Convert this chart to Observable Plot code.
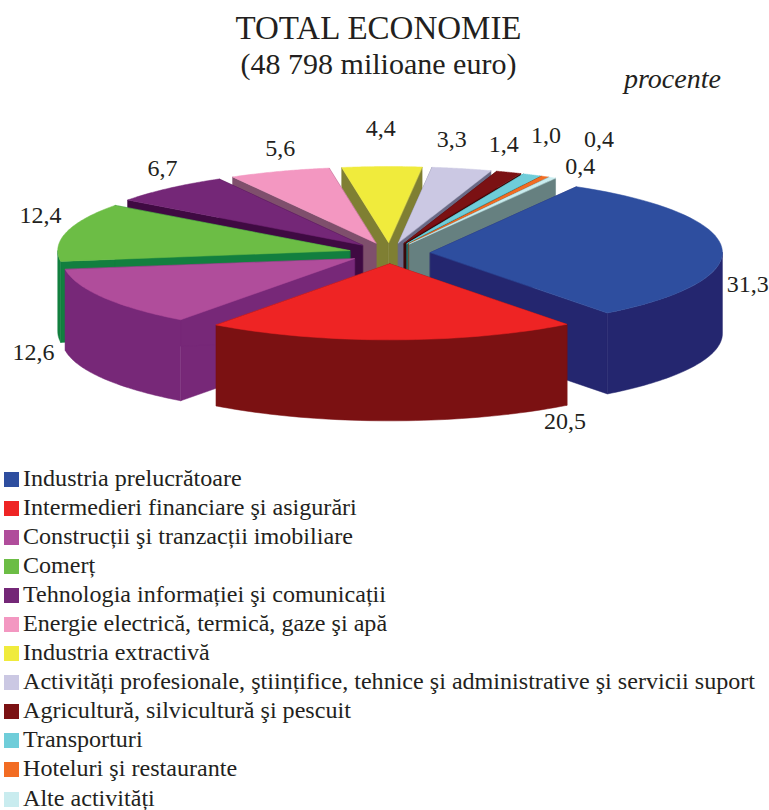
<!DOCTYPE html>
<html>
<head>
<meta charset="utf-8">
<script src="https://cdn.jsdelivr.net/npm/d3@7"></script>
<script src="https://cdn.jsdelivr.net/npm/@observablehq/plot@0.6"></script>
<style>
  html,body{margin:0;padding:0;background:#fff;}
  body{width:769px;height:810px;overflow:hidden;position:relative;font-family:"Liberation Serif",serif;color:#231f20;}
  #head{height:96px;position:relative;text-align:center;}
  #head .t{position:absolute;left:0;width:757px;line-height:36px;white-space:nowrap;}
  #head .u{position:absolute;left:624px;top:64px;font-size:28px;line-height:30px;font-style:italic;}
  #legend{position:absolute;left:0;top:465px;}
  .row{height:29.05px;display:flex;align-items:center;font-size:24.1px;line-height:26px;white-space:nowrap;}
  .row span.tx{position:relative;top:-1.5px;}
  .sw{width:15px;height:15px;margin:0 4px 0 4px;flex:none;}
  svg{display:block;}
</style>
</head>
<body>
<div id="head">
  <div class="t" style="top:10px;font-size:33px">TOTAL ECONOMIE</div>
  <div class="t" style="top:46px;font-size:30px">(48 798 milioane euro)</div>
  <div class="u">procente</div>
</div>
<div id="chart"></div>
<div id="legend"></div>
<script>
const categories = [
  "Industria prelucrătoare",
  "Intermedieri financiare şi asigurări",
  "Construcții şi tranzacții imobiliare",
  "Comerț",
  "Tehnologia informației şi comunicații",
  "Energie electrică, termică, gaze şi apă",
  "Industria extractivă",
  "Activități profesionale, ştiințifice, tehnice şi administrative şi servicii suport",
  "Agricultură, silvicultură şi pescuit",
  "Transporturi",
  "Hoteluri şi restaurante",
  "Alte activități"
];
const values = [31.3, 20.5, 12.6, 12.4, 6.7, 5.6, 4.4, 3.3, 1.4, 1.0, 0.4, 0.4];
const valueLabels = ["31,3","20,5","12,6","12,4","6,7","5,6","4,4","3,3","1,4","1,0","0,4","0,4"];
const topColors = ["#2e4e9f","#ee2424","#b04d9b","#6cbd45","#742777","#f397c1","#f0eb3c","#cbc8e3","#7b1113","#6fcdd9","#f26c23","#c9ecef"];
const wallColors = ["#24266f","#7b1112","#772878","#127f3f","#3f0a42","#7f4f6c","#7f7f33","#6a6a86","#3a0808","#177a7c","#7f3a10","#668080"];
// draw order: back slices first, the two front slices last
const paintOrder = [6,5,4,3,2,7,8,9,10,11,0,1];
// manual placement of the value labels, relative to each slice's rim middle
const labelNudge = [[26,37],[173,81],[-70,55],[-26,-16.5],[-6.5,-20],[1,-23],[-1,-38],[-10,-29],[-5,-28],[14,-40],[54,-37],[28,-11]];

// pie layout
const startAngle = 30, R = 292, RY = 76, depth = 81, explode = 41, cx = 389, cy = 252.7;
const rad = d => d * Math.PI / 180;
const total = d3.sum(values);
let acc = startAngle;
const slices = values.map((v, i) => {
  const a0 = acc, a1 = acc + v / total * 360; acc = a1;
  const m = (a0 + a1) / 2;
  const ax = cx + explode * Math.sin(rad(m));
  const ay = cy - explode * RY / R * Math.cos(rad(m));
  return {i, a0, a1, m, ax, ay};
});
const rim = (s, a) => [s.ax + R * Math.sin(rad(a)), s.ay - RY * Math.cos(rad(a))];
const arc = (s, a0, a1) => d3.range(0, 49).map(k => rim(s, a0 + (a1 - a0) * k / 48));

const polys = [];
let pid = 0;
const addPoly = (pts, color) => { pid++; pts.forEach(([x, y]) => polys.push({x, y, id: pid, color})); };
const down = ([x, y]) => [x, y + depth];
for (const i of paintOrder) {
  const s = slices[i];
  const wall = wallColors[i];
  for (const a of [s.a0, s.a1]) {
    const p = rim(s, a);
    addPoly([[s.ax, s.ay], p, down(p), down([s.ax, s.ay])], wall);
  }
  const lo = Math.max(s.a0, 90), hi = Math.min(s.a1, 270);
  if (hi > lo) {
    const c = arc(s, lo, hi);
    addPoly([...c, ...c.slice().reverse().map(down)], wall);
  }
  addPoly([[s.ax, s.ay], ...arc(s, s.a0, s.a1)], topColors[i]);
}
const labels = slices.map(s => ({
  text: valueLabels[s.i],
  x: cx + (explode + R) * Math.sin(rad(s.m)) + labelNudge[s.i][0],
  y: cy - (explode * RY / R + RY) * Math.cos(rad(s.m)) + labelNudge[s.i][1]
}));

const plot = Plot.plot({
  width: 769, height: 360,
  margin: 0,
  x: {domain: [0, 769], range: [0, 769], axis: null},
  y: {domain: [96, 456], range: [0, 360], axis: null},
  color: {type: "identity"},
  style: {background: "transparent"},
  marks: [
    Plot.line(polys, {x: "x", y: "y", z: "id", fill: "color", stroke: "color", strokeWidth: 0.5, curve: "linear-closed"}),
    Plot.text(labels, {x: "x", y: "y", text: "text", fontSize: 24, fontFamily: "Liberation Serif", fill: "#231f20", textAnchor: "middle", lineAnchor: "middle"})
  ]
});
document.getElementById("chart").append(plot);

const legend = document.getElementById("legend");
categories.forEach((c, i) => {
  const row = document.createElement("div"); row.className = "row";
  const sw = document.createElement("span"); sw.className = "sw"; sw.style.background = topColors[i];
  const tx = document.createElement("span"); tx.className = "tx"; tx.textContent = c;
  row.append(sw, tx); legend.append(row);
});
</script>
</body>
</html>
